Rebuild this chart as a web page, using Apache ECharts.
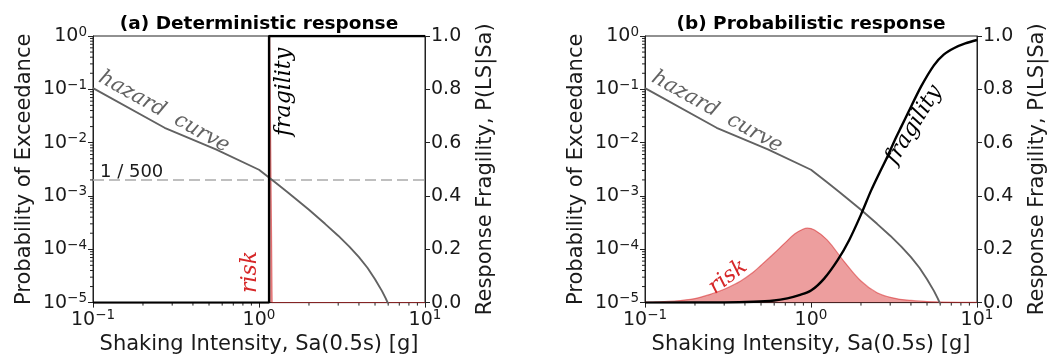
<!DOCTYPE html>
<html><head><meta charset="utf-8">
<script src="https://cdn.jsdelivr.net/npm/echarts@6/dist/echarts.min.js"></script>
<style>html,body{margin:0;padding:0;background:#fff}#c{width:1051px;height:360px}</style>
</head><body><div id="c"></div>
<script>
// ---------------- data ----------------
const panelTitles = ['(a) Deterministic response', '(b) Probabilistic response'];
const xAxisTitle = 'Shaking Intensity, Sa(0.5s) [g]';
const yLeftTitle = 'Probability of Exceedance';
const yRightTitle = 'Response Fragility, P(LS|Sa)';
const rightTickLabels = ['0.0', '0.2', '0.4', '0.6', '0.8', '1.0'];

// hazard curve (same in both panels): Sa [g] vs annual probability of exceedance
const hazardSa  = [0.1, 0.27, 0.55, 1.0, 1.25, 1.5, 1.8, 2.0, 2.5, 3.0, 3.5, 4.0, 4.5, 5.0, 5.5, 5.8, 6.2];
const hazardPoE = [0.105, 0.019, 0.0075, 0.0031, 0.0018, 0.00115, 0.00072, 0.00055, 0.0003, 0.00018, 0.000112, 0.000071, 0.000045, 0.0000275, 0.0000166, 0.000012, 0.0000076];

// 1 / 500 design level (dashed line in panel a)
const designSa  = [0.1, 10];
const designPoE = [0.002, 0.002];

// (a) deterministic fragility (step) and risk (spike)
const detFragSa = [0.1, 1.15, 1.15, 10];
const detFragP  = [0, 0, 1, 1];
const detRiskSa = [0.1, 1.15, 1.16, 1.19, 1.2, 10];
const detRiskV  = [0, 0, 1, 1, 0, 0];

// (b) probabilistic fragility and risk
const probFragSa = [0.1, 0.3, 0.45, 0.6, 0.72, 0.85, 1.0, 1.2, 1.45, 1.7, 2.0, 2.3, 2.6, 2.9, 3.2, 3.5, 3.83, 4.6, 5.5, 6.3, 7.3, 8.5, 10];
const probFragP  = [0, 0.0005, 0.003, 0.008, 0.016, 0.028, 0.045, 0.09, 0.16, 0.235, 0.33, 0.42, 0.49, 0.55, 0.61, 0.66, 0.71, 0.81, 0.89, 0.93, 0.955, 0.972, 0.985];
const probRiskSa = [0.1, 0.15, 0.2, 0.25, 0.3, 0.375, 0.45, 0.5, 0.6, 0.7, 0.8, 0.9, 0.95, 1.05, 1.25, 1.58, 2.0, 2.5, 3.15, 4.0, 5.0, 6.3, 10];
const probRiskV  = [0.002, 0.006, 0.015, 0.032, 0.05, 0.08, 0.115, 0.14, 0.185, 0.225, 0.258, 0.276, 0.279, 0.272, 0.235, 0.155, 0.081, 0.037, 0.017, 0.008, 0.004, 0.002, 0.001];

// log-axis minor tick positions
const minorMultipliers = [2, 3, 4, 5, 6, 7, 8, 9];
const xMinorDecades = [0.1, 1];
const yMinorDecades = [1e-5, 1e-4, 1e-3, 1e-2, 1e-1];

// ---------------- chart ----------------
const zip = (a, b) => a.map((v, i) => [v, b[i]]);
const xMinor = []; xMinorDecades.forEach(d => minorMultipliers.forEach(m => xMinor.push(m * d)));
const yMinor = []; yMinorDecades.forEach(d => minorMultipliers.forEach(m => yMinor.push(m * d)));

const FONT = 'DejaVu Sans';
const TXT = '#1a1a1a';
const AX = '#222';
const RED = '#d62728';
const GRAY = '#626262';

function supLabel(v) {
  const e = Math.round(Math.log10(v));
  return '{b|10}{s|' + (e < 0 ? '\u2212' + (-e) : String(e)) + '}';
}
const supRich = {
  b: { fontSize: 19, fontFamily: FONT, color: TXT, lineHeight: 22 },
  s: { fontSize: 13.5, fontFamily: FONT, color: TXT, lineHeight: 14, verticalAlign: 'top' }
};

const gridLefts = [93, 645];
const grids = gridLefts.map(l => ({ left: l, top: 36, width: 332, height: 269, show: true, borderColor: AX, borderWidth: 1, backgroundColor: 'transparent' }));

const xAxes = [0, 1].map(i => ({
  type: 'log', gridIndex: i, logBase: 10, min: 0.1, max: 10, interval: 1,
  name: xAxisTitle, nameLocation: 'middle', nameGap: 31,
  nameTextStyle: { fontSize: 21, fontFamily: FONT, color: TXT },
  axisLine: { show: true, lineStyle: { color: AX, width: 1 } },
  axisTick: { show: true, length: 5, inside: false, lineStyle: { color: AX } },
  minorTick: { show: false }, splitLine: { show: false },
  axisLabel: { formatter: supLabel, rich: supRich, margin: 6, color: TXT }
}));

const yAxes = [];
[0, 1].forEach(i => {
  yAxes.push({
    type: 'log', gridIndex: i, logBase: 10, min: 1e-5, max: 1, interval: 1, position: 'left',
    name: yLeftTitle, nameLocation: 'middle', nameGap: 58,
    nameTextStyle: { fontSize: 21, fontFamily: FONT, color: TXT },
    axisLine: { show: true, lineStyle: { color: AX, width: 1 } },
    axisTick: { show: true, length: 5, inside: false, lineStyle: { color: AX } },
    splitLine: { show: false },
    axisLabel: { formatter: supLabel, rich: supRich, margin: 6, color: TXT }
  });
  yAxes.push({
    type: 'value', gridIndex: i, min: 0, max: 1, interval: 0.2, position: 'right',
    name: yRightTitle, nameLocation: 'middle', nameGap: 50,
    nameTextStyle: { fontSize: 21, fontFamily: FONT, color: TXT },
    axisLine: { show: true, lineStyle: { color: AX, width: 1 } },
    axisTick: { show: true, length: 5, inside: false, lineStyle: { color: AX } },
    splitLine: { show: false },
    axisLabel: { formatter: (v) => rightTickLabels[Math.round(v * 5)], fontSize: 19, fontFamily: FONT, color: TXT, margin: 6 }
  });
});

function minorXTick(params, api) {
  const p = api.coord([api.value(0), api.value(1)]);
  return { type: 'line', shape: { x1: p[0], y1: p[1], x2: p[0], y2: p[1] + 3 }, style: { stroke: AX, lineWidth: 1 } };
}
function minorYTick(params, api) {
  const p = api.coord([api.value(0), api.value(1)]);
  return { type: 'line', shape: { x1: p[0], y1: p[1], x2: p[0] - 3, y2: p[1] }, style: { stroke: AX, lineWidth: 1 } };
}

const series = [];
[0, 1].forEach(i => {
  series.push({ type: 'custom', xAxisIndex: i, yAxisIndex: 2 * i, renderItem: minorXTick, clip: false, silent: true, data: xMinor.map(v => [v, 1e-5]) });
  series.push({ type: 'custom', xAxisIndex: i, yAxisIndex: 2 * i, renderItem: minorYTick, clip: false, silent: true, data: yMinor.map(v => [0.1, v]) });
});

const riskStyle = (data, i, smooth) => ({
  type: 'line', name: 'risk', xAxisIndex: i, yAxisIndex: 2 * i + 1, data: data,
  showSymbol: false, symbol: 'none', silent: true, z: 2, smooth: smooth,
  lineStyle: { color: 'rgba(214,39,40,0.55)', width: 1.2 },
  areaStyle: { color: 'rgba(214,39,40,0.45)', opacity: 1 }
});
const hazardStyle = (i) => ({
  type: 'line', name: 'hazard curve', xAxisIndex: i, yAxisIndex: 2 * i, data: zip(hazardSa, hazardPoE),
  showSymbol: false, symbol: 'none', silent: true, z: 3,
  lineStyle: { color: GRAY, width: 1.9 }
});
const fragStyle = (data, i, smooth) => ({
  type: 'line', name: 'fragility', xAxisIndex: i, yAxisIndex: 2 * i + 1, data: data,
  showSymbol: false, symbol: 'none', silent: true, z: 4, smooth: smooth,
  lineStyle: { color: '#000', width: 2.4 }
});

series.push({
  type: 'line', name: '1 / 500', xAxisIndex: 0, yAxisIndex: 0, data: zip(designSa, designPoE),
  showSymbol: false, symbol: 'none', silent: true, z: 2,
  lineStyle: { color: '#aaa', type: [11, 5], width: 1.5 }
});
series.push(riskStyle(zip(detRiskSa, detRiskV), 0, false));
series.push(hazardStyle(0));
series.push(fragStyle(zip(detFragSa, detFragP), 0, false));
series.push(riskStyle(zip(probRiskSa, probRiskV), 1, 0.4));
series.push(hazardStyle(1));
series.push(fragStyle(zip(probFragSa, probFragP), 1, 0.3));

const serif = (size) => 'italic ' + size + 'px "DejaVu Serif"';
const graphics = [
  { type: 'text', x: 259, y: 24, style: { text: panelTitles[0], font: 'bold 18.5px "DejaVu Sans"', fill: '#000', align: 'center', verticalAlign: 'middle' } },
  { type: 'text', x: 811, y: 24, style: { text: panelTitles[1], font: 'bold 18.5px "DejaVu Sans"', fill: '#000', align: 'center', verticalAlign: 'middle' } },
  { type: 'text', x: 100, y: 172, style: { text: '1 / 500', font: '18px "DejaVu Sans"', fill: TXT, align: 'left', verticalAlign: 'middle' } },
  { type: 'text', x: 164, y: 112, rotation: -0.51, style: { text: 'hazard  curve', font: serif(21), fill: GRAY, align: 'center', verticalAlign: 'middle' } },
  { type: 'text', x: 717, y: 112, rotation: -0.51, style: { text: 'hazard  curve', font: serif(21), fill: GRAY, align: 'center', verticalAlign: 'middle' } },
  { type: 'text', x: 284, y: 92, rotation: Math.PI / 2, style: { text: 'fragility', font: serif(22), fill: '#000', align: 'center', verticalAlign: 'middle' } },
  { type: 'text', x: 250, y: 272, rotation: Math.PI / 2, style: { text: 'risk', font: serif(22), fill: RED, align: 'center', verticalAlign: 'middle' } },
  { type: 'text', x: 914, y: 125, rotation: 1.02, style: { text: 'fragility', font: serif(22), fill: '#000', align: 'center', verticalAlign: 'middle' } },
  { type: 'text', x: 728, y: 277, rotation: 0.66, style: { text: 'risk', font: serif(22), fill: RED, align: 'center', verticalAlign: 'middle' } }
];

const chart = echarts.init(document.getElementById('c'), null, { renderer: 'canvas' });
chart.setOption({
  animation: false,
  backgroundColor: '#fff',
  textStyle: { fontFamily: FONT },
  grid: grids,
  xAxis: xAxes,
  yAxis: yAxes,
  series: series,
  graphic: graphics
});
</script></body></html>
